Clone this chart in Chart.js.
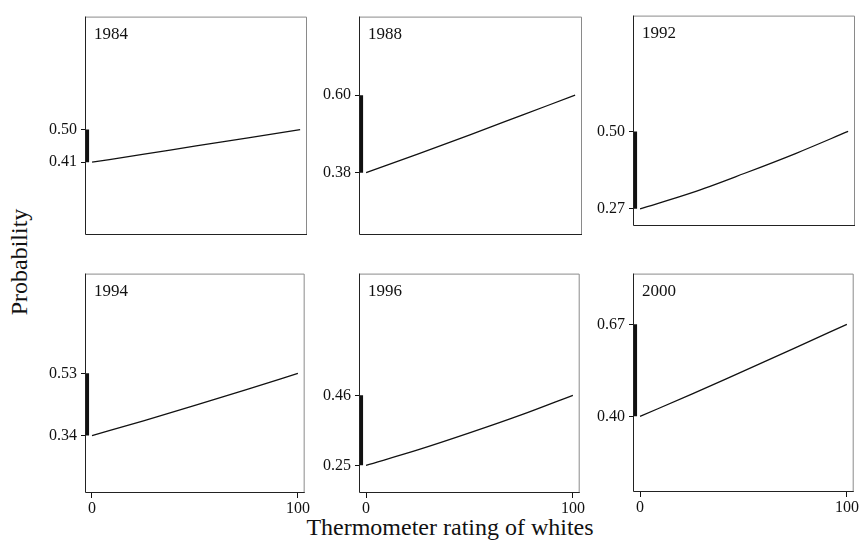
<!DOCTYPE html>
<html>
<head>
<meta charset="utf-8">
<title>Probability by thermometer rating of whites</title>
<script src="https://cdn.jsdelivr.net/npm/chart.js@4"></script>
<style>
  body { margin: 0; background: #fff; }
  #wrap { position: relative; width: 859px; height: 548px; overflow: hidden;
          font-family: "Liberation Serif", serif; color: #111; }
  #wrap canvas { position: absolute; }
  .ytitle { position: absolute; left: 19px; top: 262px; font-size: 24px; white-space: nowrap;
            transform: translate(-50%, -50%) rotate(-90deg); }
  .xtitle { position: absolute; left: 450px; top: 527px; font-size: 24px; white-space: nowrap;
            transform: translate(-50%, -50%); }
</style>
</head>
<body>
<div id="wrap">
  <div class="ytitle">Probability</div>
  <div class="xtitle">Thermometer rating of whites</div>
</div>
<script>
// survey years, one panel each
const years = ["1984", "1988", "1992", "1994", "1996", "2000"];

// thermometer rating (x) and predicted probability per year
const ratings = [0, 25, 50, 75, 100];
const prob1984 = [0.41, 0.432, 0.455, 0.477, 0.50];
const prob1988 = [0.38, 0.433, 0.488, 0.544, 0.60];
const prob1992 = [0.27, 0.318, 0.375, 0.435, 0.50];
const prob1994 = [0.34, 0.385, 0.432, 0.480, 0.53];
const prob1996 = [0.25, 0.296, 0.347, 0.401, 0.46];
const prob2000 = [0.40, 0.465, 0.533, 0.601, 0.67];
const series = [prob1984, prob1988, prob1992, prob1994, prob1996, prob2000];

// axis ranges
const yMin = [0.209, 0.203, 0.219, 0.165, 0.167, 0.178];
const yMax = [0.812, 0.823, 0.844, 0.834, 0.825, 0.819];
const xTicks = [0, 100];
const xMin = -3.4, xMax = 103.3;

// plot box of each panel on the page (left, right, top, bottom)
const boxes = [
  { l: 85,  r: 307, t: 7,   b: 235 },
  { l: 359, r: 582, t: 7,   b: 235 },
  { l: 633, r: 855, t: 6,   b: 226 },
  { l: 85,  r: 307, t: 264, b: 493 },
  { l: 359, r: 582, t: 264, b: 493 },
  { l: 633, r: 856, t: 264, b: 492 }
];

const ink = "#111";
const serif = "Liberation Serif";

// frame + year label
const panelFrame = {
  id: "panelFrame",
  afterDraw(chart, args, opts) {
    const { ctx, chartArea: a } = chart;
    ctx.save();
    ctx.lineWidth = 1;
    ctx.strokeStyle = "#8a8a8a";
    ctx.beginPath();
    ctx.moveTo(a.left, a.top + 0.5);
    ctx.lineTo(a.right - 0.5, a.top + 0.5);
    ctx.lineTo(a.right - 0.5, a.bottom);
    ctx.stroke();
    ctx.strokeStyle = "#222";
    ctx.beginPath();
    ctx.moveTo(a.left + 0.5, a.top);
    ctx.lineTo(a.left + 0.5, a.bottom - 0.5);
    ctx.lineTo(a.right, a.bottom - 0.5);
    ctx.stroke();
    ctx.fillStyle = ink;
    ctx.font = "17px '" + serif + "'";
    ctx.textBaseline = "top";
    ctx.textAlign = "left";
    ctx.fillText(opts.year, a.left + 9, a.top + 9);
    ctx.restore();
  }
};

function makePanel(i) {
  const b = boxes[i];
  const bottomRow = i >= 3;
  const vals = series[i];
  const lo = vals[0], hi = vals[vals.length - 1];

  const w = b.r - b.l + 64;
  const h = b.b - b.t + 4 + 24;
  const canvas = document.createElement("canvas");
  canvas.width = w;
  canvas.height = h;
  canvas.style.left = (b.l - 60) + "px";
  canvas.style.top = (b.t - 4) + "px";
  document.getElementById("wrap").appendChild(canvas);

  new Chart(canvas.getContext("2d"), {
    type: "line",
    data: {
      datasets: [
        {
          data: ratings.map((x, k) => ({ x: x, y: vals[k] })),
          borderColor: ink,
          borderWidth: 1.3,
          pointRadius: 0,
          cubicInterpolationMode: "monotone"
        },
        {
          // range bar along the left axis
          data: [{ x: -2.4, y: lo }, { x: -2.4, y: hi }],
          borderColor: ink,
          borderWidth: 4,
          borderCapStyle: "butt",
          pointRadius: 0
        }
      ]
    },
    options: {
      responsive: false,
      animation: false,
      layout: { padding: { top: 4, right: 4, left: 0, bottom: 0 } },
      plugins: {
        legend: { display: false },
        tooltip: { enabled: false },
        panelFrame: { year: years[i] }
      },
      scales: {
        x: {
          type: "linear",
          min: xMin,
          max: xMax,
          afterFit: (s) => { s.height = 24; },
          afterBuildTicks: (s) => { s.ticks = xTicks.map((v) => ({ value: v })); },
          border: { display: false },
          grid: { drawOnChartArea: false, drawTicks: bottomRow, tickLength: 5, color: ink },
          ticks: {
            display: bottomRow,
            padding: 1,
            color: ink,
            font: { family: serif, size: 16 },
            callback: (v) => String(v)
          }
        },
        y: {
          type: "linear",
          min: yMin[i],
          max: yMax[i],
          afterFit: (s) => { s.width = 60; },
          afterBuildTicks: (s) => { s.ticks = [{ value: lo }, { value: hi }]; },
          border: { display: false },
          grid: { drawOnChartArea: false, drawTicks: true, tickLength: 4, color: ink },
          ticks: {
            padding: 4,
            color: ink,
            font: { family: serif, size: 16 },
            callback: (v) => Number(v).toFixed(2)
          }
        }
      }
    },
    plugins: [panelFrame]
  });
}

for (let i = 0; i < years.length; i++) {
  makePanel(i);
}
</script>
</body>
</html>
